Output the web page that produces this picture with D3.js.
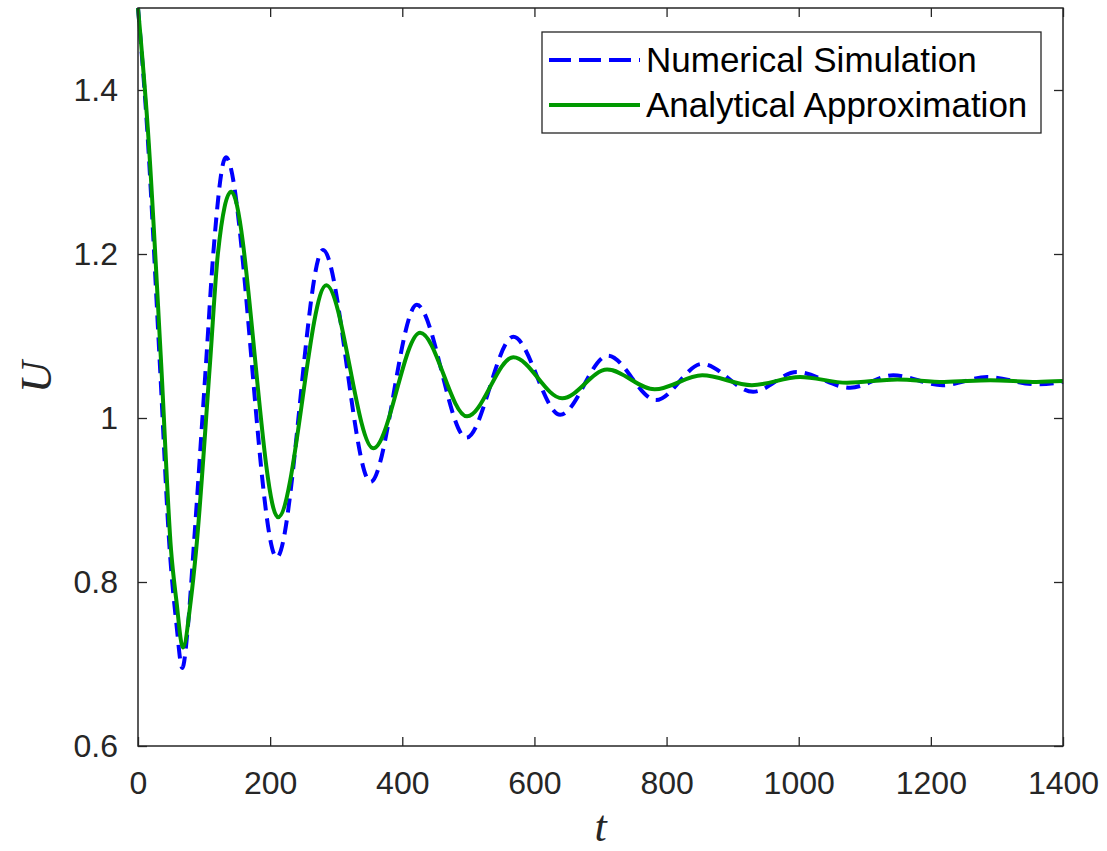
<!DOCTYPE html>
<html>
<head>
<meta charset="utf-8">
<script src="https://cdn.jsdelivr.net/npm/d3@7"></script>
<style>
  body { margin: 0; background: white; }
</style>
</head>
<body>
<div id="chart"></div>
<script>

// values
const simT = [0, 14, 33, 48, 58, 67, 76, 84, 103, 114, 133, 210, 280, 352, 422, 497, 568, 639, 711, 784, 854, 931, 997, 1078, 1143, 1218, 1285, 1361, 1400]
const simU = [1.5, 1.351, 1.067, 0.839, 0.75, 0.695, 0.75, 0.839, 1.067, 1.201, 1.318, 0.830, 1.205, 0.922, 1.138, 0.976, 1.099, 1.004, 1.076, 1.022, 1.066, 1.032, 1.056, 1.037, 1.052, 1.040, 1.050, 1.041, 1.044]

const anaT = [0, 15, 35, 50, 58, 68, 80, 88, 109, 121, 141, 212, 285, 356, 427, 498, 568, 642, 710, 782, 854, 929, 1002, 1073, 1149, 1220, 1290, 1360, 1400]
const anaU = [1.5, 1.351, 1.067, 0.839, 0.778, 0.720, 0.778, 0.839, 1.067, 1.201, 1.276, 0.879, 1.162, 0.963, 1.104, 1.002, 1.074, 1.024, 1.059, 1.035, 1.052, 1.040, 1.050, 1.043, 1.047, 1.044, 1.046, 1.044, 1.045]

const xTicks = [0, 200, 400, 600, 800, 1000, 1200, 1400]
const yTicks = [0.6, 0.8, 1, 1.2, 1.4]
const seriesNames = ["Numerical Simulation", "Analytical Approximation"]

// Create SVG
let outerWidth = 1107
let outerHeight = 851
let margin = {top: 8, bottom: 105, left: 138, right: 44}
let width = outerWidth - margin.left - margin.right
let height = outerHeight - margin.top - margin.bottom

const axisColor = "#262626"
const tickFont = "'Liberation Sans', Arial, sans-serif"

const svg = d3.select("#chart")
    .append("svg")
    .attr("width", outerWidth)
    .attr("height", outerHeight)
    .style("background", "white")

const g = svg.append("g")
    .attr("transform", `translate(${margin.left}, ${margin.top})`)

const x = d3.scaleLinear().domain([0, 1400]).range([0, width])
const y = d3.scaleLinear().domain([0.6, 1.5]).range([height, 0])

// Axes, ticks pointing inward on all four sides
const styleAxis = sel => {
    sel.select(".domain").remove()
    sel.selectAll(".tick line").attr("stroke", axisColor).attr("stroke-width", 1.3)
    sel.selectAll(".tick text")
        .attr("fill", axisColor)
        .style("font-family", tickFont)
        .style("font-size", "32px")
}

g.append("g")
    .attr("transform", `translate(0, ${height})`)
    .call(d3.axisBottom(x).tickValues(xTicks).tickSizeInner(-9).tickSizeOuter(0).tickPadding(25)
        .tickFormat(d3.format("d")))
    .call(styleAxis)

g.append("g")
    .call(d3.axisTop(x).tickValues(xTicks).tickSizeInner(-9).tickSizeOuter(0).tickFormat(""))
    .call(styleAxis)

g.append("g")
    .call(d3.axisLeft(y).tickValues(yTicks).tickSizeInner(-9).tickSizeOuter(0).tickPadding(20)
        .tickFormat(d => d3.format("~g")(d)))
    .call(styleAxis)

g.append("g")
    .attr("transform", `translate(${width}, 0)`)
    .call(d3.axisRight(y).tickValues(yTicks).tickSizeInner(-9).tickSizeOuter(0).tickFormat(""))
    .call(styleAxis)

// Draw lines
const line = d3.line()
    .x(d => x(d[0]))
    .y(d => y(d[1]))
    .curve(d3.curveMonotoneX)

const simData = simT.map((t, i) => [t, simU[i]])
const anaData = anaT.map((t, i) => [t, anaU[i]])

const plot = g.append("g")

plot.append("path")
    .datum(simData)
    .attr("d", line)
    .attr("fill", "none")
    .attr("stroke", "#0000ff")
    .attr("stroke-width", 4)
    .attr("stroke-dasharray", "14,8")

plot.append("path")
    .datum(anaData)
    .attr("d", line)
    .attr("fill", "none")
    .attr("stroke", "#009900")
    .attr("stroke-width", 4)

// Box
g.append("rect")
    .attr("x", 0)
    .attr("y", 0)
    .attr("width", width)
    .attr("height", height)
    .attr("fill", "none")
    .attr("stroke", axisColor)
    .attr("stroke-width", 1.5)

// Axis labels
svg.append("text")
    .attr("x", margin.left + width / 2)
    .attr("y", 841)
    .attr("text-anchor", "middle")
    .style("font-family", "'Liberation Serif', 'Times New Roman', serif")
    .style("font-style", "italic")
    .style("font-size", "44px")
    .attr("fill", axisColor)
    .text("t")

svg.append("text")
    .attr("transform", "translate(51, 377) rotate(-90)")
    .attr("text-anchor", "middle")
    .style("font-family", "'Liberation Serif', 'Times New Roman', serif")
    .style("font-style", "italic")
    .style("font-size", "44px")
    .attr("fill", axisColor)
    .text("U")

// Legend
const legend = svg.append("g")

legend.append("rect")
    .attr("x", 542)
    .attr("y", 32)
    .attr("width", 499)
    .attr("height", 101)
    .attr("fill", "white")
    .attr("stroke", axisColor)
    .attr("stroke-width", 1.3)

const legendStyles = [
    {color: "#0000ff", dash: "22,8"},
    {color: "#009900", dash: null}
]

seriesNames.forEach((name, i) => {
    let ly = 60 + i * 45
    legend.append("line")
        .attr("x1", 549)
        .attr("x2", 640)
        .attr("y1", ly)
        .attr("y2", ly)
        .attr("stroke", legendStyles[i].color)
        .attr("stroke-width", 4)
        .attr("stroke-dasharray", legendStyles[i].dash)
    legend.append("text")
        .attr("x", 646)
        .attr("y", ly + 12)
        .style("font-family", tickFont)
        .style("font-size", "35px")
        .attr("fill", "#000")
        .text(name)
})

</script>
</body>
</html>
